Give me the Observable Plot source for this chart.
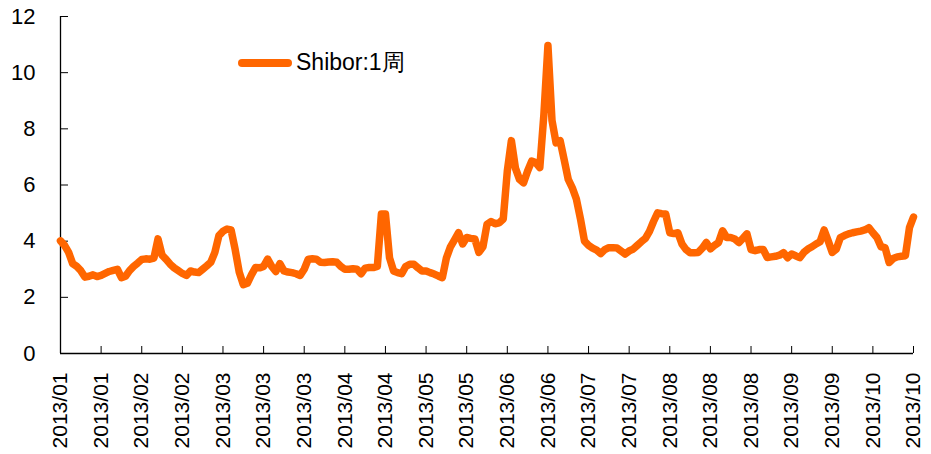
<!DOCTYPE html>
<html>
<head>
<meta charset="utf-8">
<script src="https://cdn.jsdelivr.net/npm/d3@7"></script>
<script src="https://cdn.jsdelivr.net/npm/@observablehq/plot@0.6"></script>
<style>
  html, body { margin: 0; padding: 0; background: #fff; }
  #wrap { position: relative; width: 931px; height: 454px; font-family: "Liberation Sans", Arial, sans-serif; }
  #legend { position: absolute; left: 238px; top: 47px; display: flex; align-items: center; font-size: 23px; color: #000; }
  #legend .swatch { display: inline-block; width: 54px; height: 8px; border-radius: 4px; background: #FF6600; margin-right: 4px; }
</style>
</head>
<body>
<div id="wrap">
  <div id="legend"><span class="swatch"></span><span>Shibor:1周</span></div>
</div>
<script>
const seriesName = "Shibor:1周";
const shibor1w = [
  4.01, 3.85, 3.6, 3.2, 3.1, 2.95, 2.72, 2.75, 2.8, 2.74,
  2.78, 2.85, 2.92, 2.96, 3.0, 2.7, 2.75, 2.95, 3.1, 3.22,
  3.35, 3.37, 3.36, 3.4, 4.08, 3.5, 3.35, 3.18, 3.05, 2.95,
  2.85, 2.78, 2.94, 2.9, 2.88, 3.0, 3.12, 3.25, 3.6, 4.2,
  4.35, 4.43, 4.4, 3.7, 2.9, 2.45, 2.5, 2.8, 3.06, 3.05,
  3.1, 3.36, 3.1, 2.92, 3.2, 2.94, 2.9, 2.88, 2.84, 2.78,
  3.0, 3.36, 3.37, 3.36, 3.25, 3.24, 3.26, 3.27, 3.25, 3.1,
  3.0, 3.0, 3.02, 3.0, 2.84, 3.04, 3.06, 3.06, 3.1, 4.97,
  4.97, 3.41, 2.94, 2.88, 2.84, 3.1, 3.18, 3.18, 3.05, 2.94,
  2.94, 2.88, 2.83, 2.76, 2.7, 3.4, 3.8, 4.05, 4.3, 3.9,
  4.13, 4.1, 4.08, 3.6, 3.8, 4.6, 4.7, 4.62, 4.65, 4.79,
  6.5, 7.58, 6.6, 6.2, 6.08, 6.5, 6.85, 6.8, 6.62, 8.5,
  10.97, 8.3, 7.5, 7.58, 6.9, 6.2, 5.9, 5.5, 4.8, 4.0,
  3.85, 3.75, 3.68, 3.56, 3.7, 3.77, 3.77, 3.76, 3.65, 3.54,
  3.65, 3.72, 3.85, 3.98, 4.1, 4.35, 4.7, 5.01, 4.98, 4.97,
  4.3, 4.27, 4.3, 3.9, 3.7, 3.59, 3.59, 3.6, 3.75, 3.95,
  3.73, 3.85, 3.95, 4.37, 4.13, 4.13, 4.08, 3.95, 4.1, 4.26,
  3.7, 3.66, 3.7, 3.7, 3.42, 3.44, 3.46, 3.5, 3.59, 3.41,
  3.54, 3.48, 3.41, 3.6, 3.72, 3.8, 3.9, 3.98, 4.4, 4.01,
  3.6, 3.72, 4.13, 4.2, 4.26, 4.3, 4.33, 4.36, 4.4, 4.48,
  4.3, 4.13, 3.8, 3.77, 3.24, 3.38, 3.44, 3.46, 3.48, 4.48,
  4.86
];
const tickLabels = [
  "2013/01", "2013/01", "2013/02", "2013/02", "2013/03", "2013/03",
  "2013/03", "2013/04", "2013/04", "2013/05", "2013/05", "2013/06",
  "2013/06", "2013/07", "2013/07", "2013/08", "2013/08", "2013/08",
  "2013/09", "2013/09", "2013/10", "2013/10"
];
const labelEvery = 10;
const yTicks = [0, 2, 4, 6, 8, 10, 12];

const data = shibor1w.map((v, i) => ({i, v}));
const xTicks = tickLabels.map((_, k) => k * labelEvery);

const W = 931, H = 454;
const mL = 60, mR = 18, mT = 16, mB = 101;
const innerW = W - mL - mR, innerH = H - mT - mB;

const chart = Plot.plot({
  width: W,
  height: H,
  marginLeft: mL,
  marginRight: mR,
  marginTop: mT,
  marginBottom: mB,
  style: {fontFamily: "'Liberation Sans', Arial, sans-serif", fontSize: "21px", color: "#000", background: "transparent", overflow: "visible"},
  x: {domain: [0, (tickLabels.length - 1) * labelEvery]},
  y: {domain: [0, 12]},
  marks: [
    Plot.axisY({ticks: yTicks, tickSize: 0, tickPadding: 25, fontSize: 22, label: null}),
    Plot.axisX({ticks: xTicks, tickSize: 0, tickPadding: 19, tickRotate: -90, fontSize: 21,
                tickFormat: d => tickLabels[Math.round(d / labelEvery)], label: null}),
    Plot.tickY(yTicks, {y: d => d, stroke: "#000", strokeWidth: 1, insetRight: innerW - 8}),
    Plot.tickX(xTicks, {x: d => d, stroke: "#000", strokeWidth: 1, insetTop: innerH - 7}),
    Plot.ruleX([0], {stroke: "#000", strokeWidth: 1.3}),
    Plot.ruleY([0], {stroke: "#000", strokeWidth: 1.3}),
    Plot.line(data, {x: "i", y: "v", stroke: "#FF6600", strokeWidth: 7.5, strokeLinejoin: "round", strokeLinecap: "round"})
  ]
});
chart.style.position = "absolute";
chart.style.left = "0";
chart.style.top = "0";
document.getElementById("wrap").prepend(chart);
</script>
</body>
</html>
